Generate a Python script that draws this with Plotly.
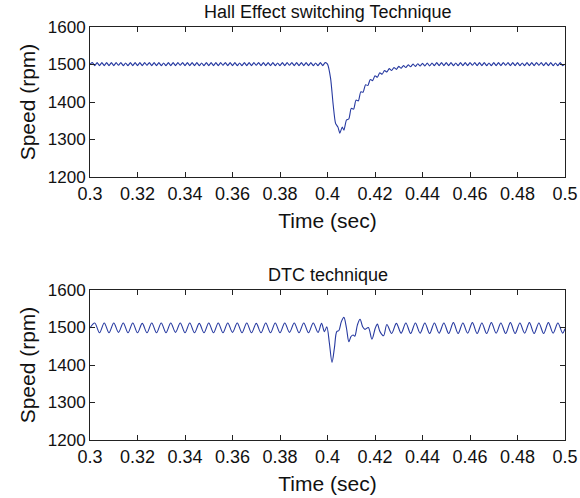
import plotly.graph_objects as go

# ---------------- Hall effect switching technique ----------------
hall_t_steady = [
    0.300, 0.301, 0.302, 0.303, 0.304, 0.305, 0.306, 0.307, 0.308, 0.309,
    0.310, 0.311, 0.312, 0.313, 0.314, 0.315, 0.316, 0.317, 0.318, 0.319,
    0.320, 0.321, 0.322, 0.323, 0.324, 0.325, 0.326, 0.327, 0.328, 0.329,
    0.330, 0.331, 0.332, 0.333, 0.334, 0.335, 0.336, 0.337, 0.338, 0.339,
    0.340, 0.341, 0.342, 0.343, 0.344, 0.345, 0.346, 0.347, 0.348, 0.349,
    0.350, 0.351, 0.352, 0.353, 0.354, 0.355, 0.356, 0.357, 0.358, 0.359,
    0.360, 0.361, 0.362, 0.363, 0.364, 0.365, 0.366, 0.367, 0.368, 0.369,
    0.370, 0.371, 0.372, 0.373, 0.374, 0.375, 0.376, 0.377, 0.378, 0.379,
    0.380, 0.381, 0.382, 0.383, 0.384, 0.385, 0.386, 0.387, 0.388, 0.389,
    0.390, 0.391, 0.392, 0.393, 0.394, 0.395, 0.396, 0.397, 0.398, 0.399,
]
hall_v_steady = [
    1501, 1505, 1497, 1505, 1497, 1505, 1497, 1505, 1497, 1505,
    1497, 1505, 1498, 1505, 1497, 1504, 1497, 1505, 1497, 1505,
    1497, 1505, 1497, 1505, 1498, 1505, 1497, 1505, 1497, 1505,
    1497, 1504, 1497, 1505, 1497, 1505, 1497, 1505, 1498, 1505,
    1497, 1505, 1497, 1505, 1497, 1505, 1497, 1504, 1497, 1505,
    1497, 1505, 1497, 1505, 1497, 1505, 1498, 1505, 1497, 1505,
    1497, 1505, 1497, 1504, 1497, 1505, 1497, 1505, 1497, 1505,
    1498, 1505, 1497, 1505, 1497, 1505, 1497, 1505, 1497, 1504,
    1497, 1505, 1497, 1505, 1498, 1505, 1497, 1505, 1497, 1505,
    1497, 1505, 1497, 1505, 1497, 1504, 1497, 1505, 1497, 1505,
]
hall_t_dip = [
    0.4000, 0.4013, 0.4024, 0.4034, 0.4044, 0.4052, 0.4062, 0.4069,
    0.4080, 0.4090,
    0.410, 0.411, 0.412, 0.413, 0.414, 0.415, 0.416, 0.417, 0.418, 0.419,
    0.420, 0.421, 0.422, 0.423, 0.424, 0.425, 0.426, 0.427, 0.428, 0.429,
    0.430, 0.431, 0.432, 0.433, 0.434, 0.435, 0.436, 0.437, 0.438, 0.439,
]
hall_v_dip = [
    1501, 1463, 1392, 1343, 1333, 1317, 1333, 1325,
    1352, 1355,
    1383, 1381, 1405, 1403, 1427, 1426, 1446, 1444, 1460, 1457,
    1470, 1466, 1478, 1474, 1484, 1480, 1489, 1484, 1492, 1487,
    1495, 1490, 1497, 1492, 1499, 1494, 1501, 1495, 1502, 1496,
]
hall_t_recovered = [
    0.440, 0.441, 0.442, 0.443, 0.444, 0.445, 0.446, 0.447, 0.448, 0.449,
    0.450, 0.451, 0.452, 0.453, 0.454, 0.455, 0.456, 0.457, 0.458, 0.459,
    0.460, 0.461, 0.462, 0.463, 0.464, 0.465, 0.466, 0.467, 0.468, 0.469,
    0.470, 0.471, 0.472, 0.473, 0.474, 0.475, 0.476, 0.477, 0.478, 0.479,
    0.480, 0.481, 0.482, 0.483, 0.484, 0.485, 0.486, 0.487, 0.488, 0.489,
    0.490, 0.491, 0.492, 0.493, 0.494, 0.495, 0.496, 0.497, 0.498, 0.499,
    0.500,
]
hall_v_recovered = [
    1503, 1496, 1504, 1496, 1504, 1497, 1505, 1497, 1505, 1497,
    1505, 1497, 1505, 1497, 1504, 1497, 1505, 1497, 1505, 1497,
    1505, 1498, 1505, 1497, 1505, 1497, 1505, 1497, 1504, 1497,
    1505, 1497, 1505, 1497, 1505, 1498, 1505, 1497, 1505, 1497,
    1505, 1497, 1504, 1497, 1505, 1497, 1505, 1497, 1505, 1498,
    1505, 1497, 1505, 1497, 1505, 1497, 1504, 1497, 1505, 1497,
    1501,
]

# ---------------- DTC technique ----------------
dtc_t_steady = [
    0.300, 0.302, 0.304, 0.306, 0.308, 0.310, 0.312, 0.314, 0.316, 0.318,
    0.320, 0.322, 0.324, 0.326, 0.328, 0.330, 0.332, 0.334, 0.336, 0.338,
    0.340, 0.342, 0.344, 0.346, 0.348, 0.350, 0.352, 0.354, 0.356, 0.358,
    0.360, 0.362, 0.364, 0.366, 0.368, 0.370, 0.372, 0.374, 0.376, 0.378,
    0.380, 0.382, 0.384, 0.386, 0.388, 0.390, 0.392, 0.394, 0.396,
]
dtc_v_steady = [
    1499, 1512, 1486, 1512, 1486, 1512, 1487, 1512, 1486, 1512,
    1486, 1511, 1486, 1512, 1486, 1512, 1486, 1512, 1487, 1512,
    1486, 1512, 1486, 1511, 1486, 1512, 1486, 1512, 1486, 1512,
    1487, 1512, 1486, 1512, 1486, 1511, 1486, 1512, 1486, 1512,
    1486, 1512, 1487, 1512, 1486, 1512, 1486, 1512, 1487,
]
dtc_t_dist = [
    0.3975, 0.3987, 0.3997, 0.4008, 0.4019, 0.4029, 0.4039, 0.4048,
    0.4058, 0.4069, 0.4080, 0.4090, 0.4099, 0.4108, 0.4115, 0.4126,
    0.4137, 0.4148, 0.4158, 0.4172, 0.4187, 0.4201, 0.4210, 0.4221,
    0.4236, 0.4250,
]
dtc_v_dist = [
    1511, 1489, 1502, 1458, 1407, 1445, 1489, 1492,
    1515, 1527, 1498, 1462, 1476, 1480, 1477, 1507,
    1522, 1502, 1495, 1500, 1469, 1498, 1509, 1489,
    1478, 1508,
]
dtc_t_after = [
    0.427, 0.429, 0.431, 0.433, 0.435, 0.437, 0.439, 0.441, 0.443, 0.445,
    0.447, 0.449, 0.451, 0.453, 0.455, 0.457, 0.459, 0.461, 0.463, 0.465,
    0.467, 0.469, 0.471, 0.473, 0.475, 0.477, 0.479, 0.481, 0.483, 0.485,
    0.487, 0.489, 0.491, 0.493, 0.495, 0.497, 0.499, 0.500,
]
dtc_v_after = [
    1484, 1511, 1485, 1512, 1484, 1512, 1485, 1512, 1484, 1512,
    1485, 1512, 1484, 1513, 1484, 1512, 1485, 1513, 1484, 1512,
    1484, 1513, 1485, 1512, 1484, 1513, 1484, 1512, 1485, 1513,
    1484, 1512, 1484, 1513, 1485, 1512, 1485, 1497,
]

hall_t = hall_t_steady + hall_t_dip + hall_t_recovered
hall_v = hall_v_steady + hall_v_dip + hall_v_recovered
dtc_t = dtc_t_steady + dtc_t_dist + dtc_t_after
dtc_v = dtc_v_steady + dtc_v_dist + dtc_v_after

x_ticks = [0.3, 0.32, 0.34, 0.36, 0.38, 0.4, 0.42, 0.44, 0.46, 0.48, 0.5]
x_tick_text = ["0.3", "0.32", "0.34", "0.36", "0.38", "0.4", "0.42", "0.44", "0.46", "0.48", "0.5"]
y_ticks = [1200, 1300, 1400, 1500, 1600]

line_color = "#2639a0"
FONT = "Liberation Sans, Arial, Helvetica, sans-serif"

fig = go.Figure()
fig.add_trace(go.Scatter(x=hall_t, y=hall_v, mode="lines",
                         line=dict(color=line_color, width=1.1, shape="spline", smoothing=0.6),
                         xaxis="x", yaxis="y", showlegend=False))
fig.add_trace(go.Scatter(x=dtc_t, y=dtc_v, mode="lines",
                         line=dict(color=line_color, width=1.1, shape="spline", smoothing=0.9),
                         xaxis="x2", yaxis="y2", showlegend=False))

W, H = 580, 498
x0, x1 = 90 / W, 565 / W
top_dom = [(H - 177) / H, (H - 27) / H]
bot_dom = [(H - 440) / H, (H - 290) / H]

axis_common = dict(
    showline=True, linecolor="#222", linewidth=1, mirror="ticks",
    ticks="inside", ticklen=5, tickcolor="#222", showgrid=False, zeroline=False,
    automargin=False,
)
xtickfont = dict(family=FONT, size=18, color="#111")
ytickfont = dict(family=FONT, size=17, color="#111")
title_font = dict(family=FONT, size=21, color="#111")

fig.update_layout(
    width=W, height=H, margin=dict(l=0, r=0, t=0, b=0),
    paper_bgcolor="white", plot_bgcolor="white",
    xaxis=dict(domain=[x0, x1], anchor="y", range=[0.3, 0.5], tickvals=x_ticks, ticktext=x_tick_text,
               tickfont=xtickfont, title=dict(text="Time (sec)", font=title_font, standoff=10),
               **axis_common),
    yaxis=dict(domain=top_dom, anchor="x", range=[1200, 1600], tickvals=y_ticks,
               tickfont=ytickfont, title=dict(text="Speed (rpm)", font=title_font, standoff=6),
               **axis_common),
    xaxis2=dict(domain=[x0, x1], anchor="y2", range=[0.3, 0.5], tickvals=x_ticks, ticktext=x_tick_text,
                tickfont=xtickfont, title=dict(text="Time (sec)", font=title_font, standoff=10),
                **axis_common),
    yaxis2=dict(domain=bot_dom, anchor="x2", range=[1200, 1600], tickvals=y_ticks,
                tickfont=ytickfont, title=dict(text="Speed (rpm)", font=title_font, standoff=6),
                **axis_common),
    annotations=[
        dict(text="Hall Effect switching Technique", x=(x0 + x1) / 2, y=top_dom[1], xref="paper", yref="paper",
             xanchor="center", yanchor="bottom", showarrow=False, yshift=3,
             font=dict(family=FONT, size=18, color="#111")),
        dict(text="DTC technique", x=(x0 + x1) / 2, y=bot_dom[1], xref="paper", yref="paper",
             xanchor="center", yanchor="bottom", showarrow=False, yshift=3,
             font=dict(family=FONT, size=18, color="#111")),
    ],
)

fig.write_html("out.html")
